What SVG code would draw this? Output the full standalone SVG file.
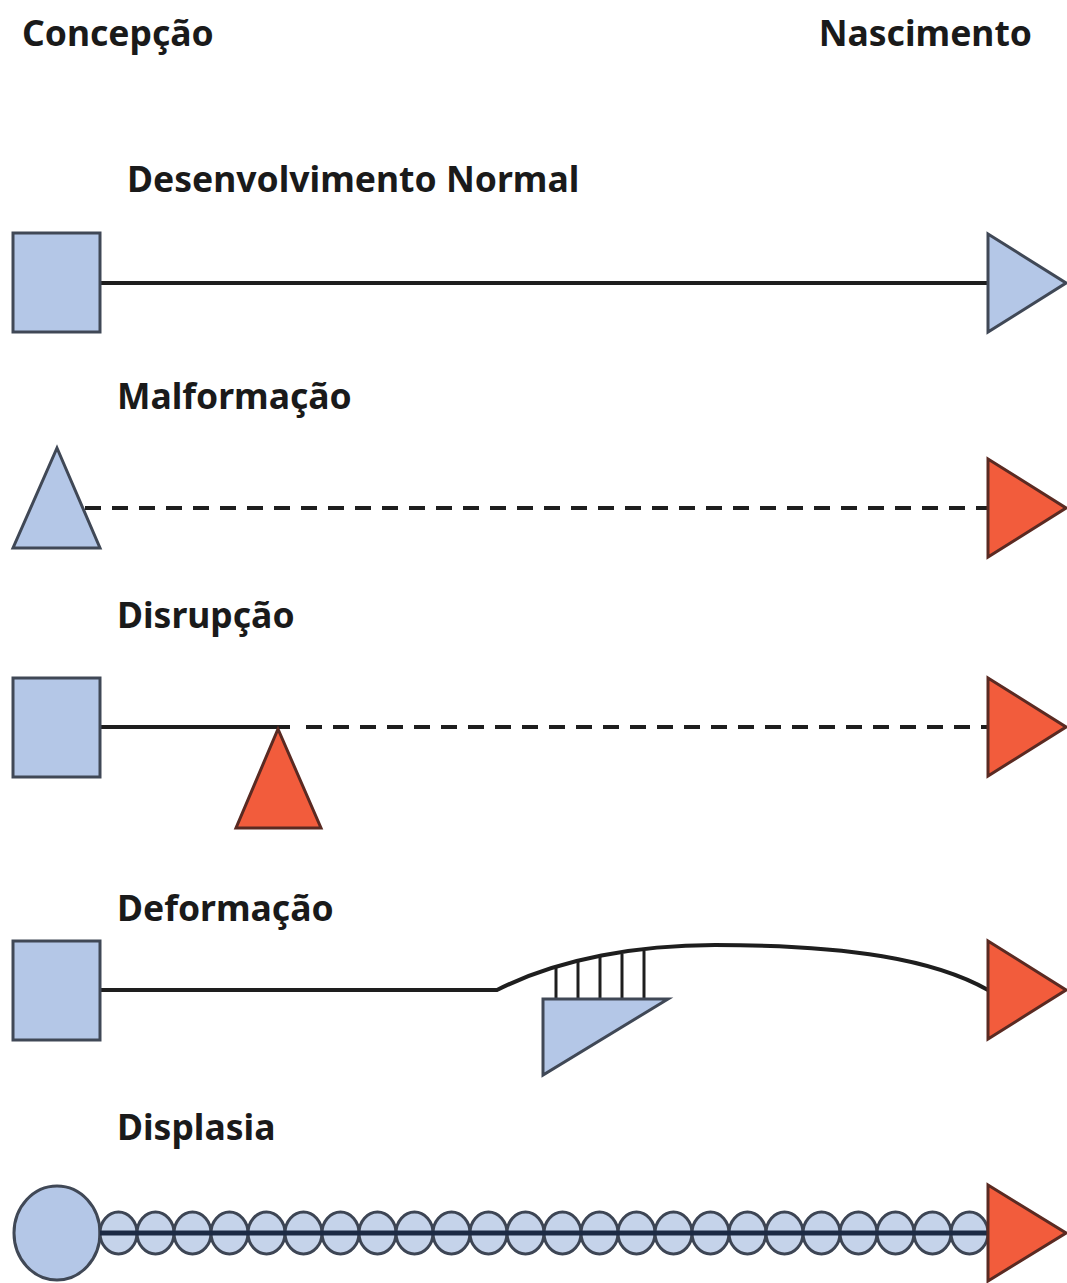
<svg xmlns="http://www.w3.org/2000/svg" width="1067" height="1283" viewBox="0 0 1067 1283">
  <style>
    .lbl { font-family: "Noto Sans", "Open Sans", sans-serif; font-weight: bold; font-size: 35.5px; fill: #1a1a1a; }
    .blue { fill: #b4c7e7; stroke: #404856; stroke-width: 3; stroke-linejoin: miter; }
    .red { fill: #f25c3c; stroke: #5a2a22; stroke-width: 3; }
    .solid { stroke: #1e1e1e; stroke-width: 4; fill: none; }
    .dash { stroke: #1e1e1e; stroke-width: 4; fill: none; stroke-dasharray: 16 11; }
    .hatch { stroke: #1e1e1e; stroke-width: 3; }
    .bead { fill: #c5d3ea; stroke: #3d4554; stroke-width: 3; }
    .axis { stroke: #1c2a44; stroke-width: 5; }
  </style>
  <rect width="1067" height="1283" fill="#ffffff"/>

  <!-- timeline end labels -->
  <text class="lbl" x="22" y="46">Concepção</text>
  <text class="lbl" x="1032" y="46" text-anchor="end">Nascimento</text>

  <!-- row titles -->
  <text class="lbl" x="127" y="192">Desenvolvimento Normal</text>
  <text class="lbl" x="117" y="409">Malformação</text>
  <text class="lbl" x="117" y="628">Disrupção</text>
  <text class="lbl" x="117" y="921">Deformação</text>
  <text class="lbl" x="117" y="1140">Displasia</text>

  <g id="connectors">
    <!-- normal development -->
    <line class="solid" x1="100" y1="283" x2="988" y2="283"/>
    <!-- malformation -->
    <line class="dash" x1="85" y1="508" x2="988" y2="508"/>
    <!-- disruption -->
    <line class="solid" x1="100" y1="727" x2="290" y2="727"/>
    <line class="dash" x1="306" y1="727" x2="988" y2="727"/>
    <!-- deformation -->
    <path class="solid" d="M100,990 L497,990 C560,958 640,945 715,945 C850,945 935,960 988,990"/>
    <g id="deform-hatch">
      <line class="hatch" x1="556" y1="966" x2="556" y2="999"/>
      <line class="hatch" x1="578" y1="961" x2="578" y2="999"/>
      <line class="hatch" x1="600" y1="957" x2="600" y2="999"/>
      <line class="hatch" x1="622" y1="954" x2="622" y2="999"/>
      <line class="hatch" x1="644" y1="951" x2="644" y2="999"/>
    </g>
  </g>

  <!-- row 1: normal development -->
  <g id="normal-start"><rect class="blue" x="13" y="233" width="87" height="99"/></g>
  <g id="normal-end"><polygon class="blue" points="988,234 1066,283 988,332"/></g>

  <!-- row 2: malformation -->
  <g id="malformation-start"><polygon class="blue" points="57,448 100,548 13,548"/></g>
  <g id="malformation-end"><polygon class="red" points="988,459 1066,508 988,557"/></g>

  <!-- row 3: disruption -->
  <g id="disruption-start"><rect class="blue" x="13" y="678" width="87" height="99"/></g>
  <g id="disruption-event"><polygon class="red" points="278,729 321,828 236,828"/></g>
  <g id="disruption-end"><polygon class="red" points="988,678 1066,727 988,776"/></g>

  <!-- row 4: deformation -->
  <g id="deformation-start"><rect class="blue" x="13" y="941" width="87" height="99"/></g>
  <g id="deformation-force"><polygon class="blue" points="543,999 668,999 543,1075"/></g>
  <g id="deformation-end"><polygon class="red" points="988,941 1066,990 988,1039"/></g>

  <!-- row 5: dysplasia -->
  <g id="dysplasia-start"><ellipse class="blue" cx="57" cy="1233" rx="43" ry="47"/></g>
  <g id="dysplasia-beads">
    <ellipse class="bead" cx="118.5" cy="1233" rx="18.5" ry="21"/>
    <ellipse class="bead" cx="155.5" cy="1233" rx="18.5" ry="21"/>
    <ellipse class="bead" cx="192.5" cy="1233" rx="18.5" ry="21"/>
    <ellipse class="bead" cx="229.5" cy="1233" rx="18.5" ry="21"/>
    <ellipse class="bead" cx="266.5" cy="1233" rx="18.5" ry="21"/>
    <ellipse class="bead" cx="303.5" cy="1233" rx="18.5" ry="21"/>
    <ellipse class="bead" cx="340.5" cy="1233" rx="18.5" ry="21"/>
    <ellipse class="bead" cx="377.5" cy="1233" rx="18.5" ry="21"/>
    <ellipse class="bead" cx="414.5" cy="1233" rx="18.5" ry="21"/>
    <ellipse class="bead" cx="451.5" cy="1233" rx="18.5" ry="21"/>
    <ellipse class="bead" cx="488.5" cy="1233" rx="18.5" ry="21"/>
    <ellipse class="bead" cx="525.5" cy="1233" rx="18.5" ry="21"/>
    <ellipse class="bead" cx="562.5" cy="1233" rx="18.5" ry="21"/>
    <ellipse class="bead" cx="599.5" cy="1233" rx="18.5" ry="21"/>
    <ellipse class="bead" cx="636.5" cy="1233" rx="18.5" ry="21"/>
    <ellipse class="bead" cx="673.5" cy="1233" rx="18.5" ry="21"/>
    <ellipse class="bead" cx="710.5" cy="1233" rx="18.5" ry="21"/>
    <ellipse class="bead" cx="747.5" cy="1233" rx="18.5" ry="21"/>
    <ellipse class="bead" cx="784.5" cy="1233" rx="18.5" ry="21"/>
    <ellipse class="bead" cx="821.5" cy="1233" rx="18.5" ry="21"/>
    <ellipse class="bead" cx="858.5" cy="1233" rx="18.5" ry="21"/>
    <ellipse class="bead" cx="895.5" cy="1233" rx="18.5" ry="21"/>
    <ellipse class="bead" cx="932.5" cy="1233" rx="18.5" ry="21"/>
    <ellipse class="bead" cx="969.5" cy="1233" rx="18.5" ry="21"/>
    <line class="axis" x1="100" y1="1233" x2="988" y2="1233"/>
  </g>
  <g id="dysplasia-end"><polygon class="red" points="988,1185 1066,1233 988,1281"/></g>
</svg>
